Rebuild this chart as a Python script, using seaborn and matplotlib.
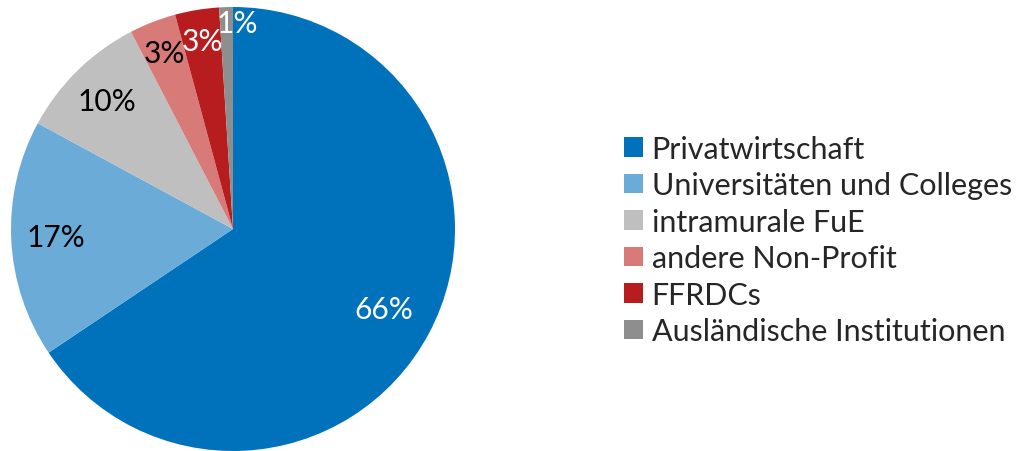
import numpy as np
import matplotlib
matplotlib.use("Agg")
import matplotlib.pyplot as plt
import seaborn as sns

categories = ["Privatwirtschaft", "Universitäten und Colleges", "intramurale FuE",
              "andere Non-Profit", "FFRDCs", "Ausländische Institutionen"]
values = [65.6, 17.3, 9.5, 3.4, 3.2, 1.0]
colors = ["#0072BC", "#6AACD7", "#BFBFBF", "#D87A78", "#B71D1F", "#8E8E8E"]
label_colors = ["white", "black", "black", "black", "white", "white"]
label_radii = [0.77, 0.80, 0.81, 0.85, 0.86, 0.93]
label_angle_shift = [0, 0, 0, 0, 0, -3]

sns.set_theme(style="white")
plt.rcParams["font.family"] = ["Lato", "DejaVu Sans"]

fig = plt.figure(figsize=(10.17, 4.52), dpi=100)
ax = fig.add_axes([11 / 1017, 0.0, 444 / 1017, 444 / 452])
pal = sns.color_palette(colors)
wedges, _ = ax.pie(values, colors=pal, startangle=90, counterclock=False,
                   radius=1.0, wedgeprops=dict(linewidth=0))
ax.set_xlim(-1, 1)
ax.set_ylim(-1, 1)
ax.set_aspect("equal")
ax.axis("off")

for w, v, c, r, s in zip(wedges, values, label_colors, label_radii, label_angle_shift):
    th = np.deg2rad((w.theta1 + w.theta2) / 2 + s)
    ax.text(r * np.cos(th), r * np.sin(th), f"{round(v)}%", color=c,
            ha="center", va="center", fontsize=21.5)

fig.legend(wedges, categories, loc="center left",
           bbox_to_anchor=(612 / 1017, (452 - 241) / 452),
           frameon=False, fontsize=22, handlelength=0.6, handleheight=0.6,
           handletextpad=0.3, labelspacing=0.28, borderaxespad=0)

fig.savefig("out.png", dpi=100)
